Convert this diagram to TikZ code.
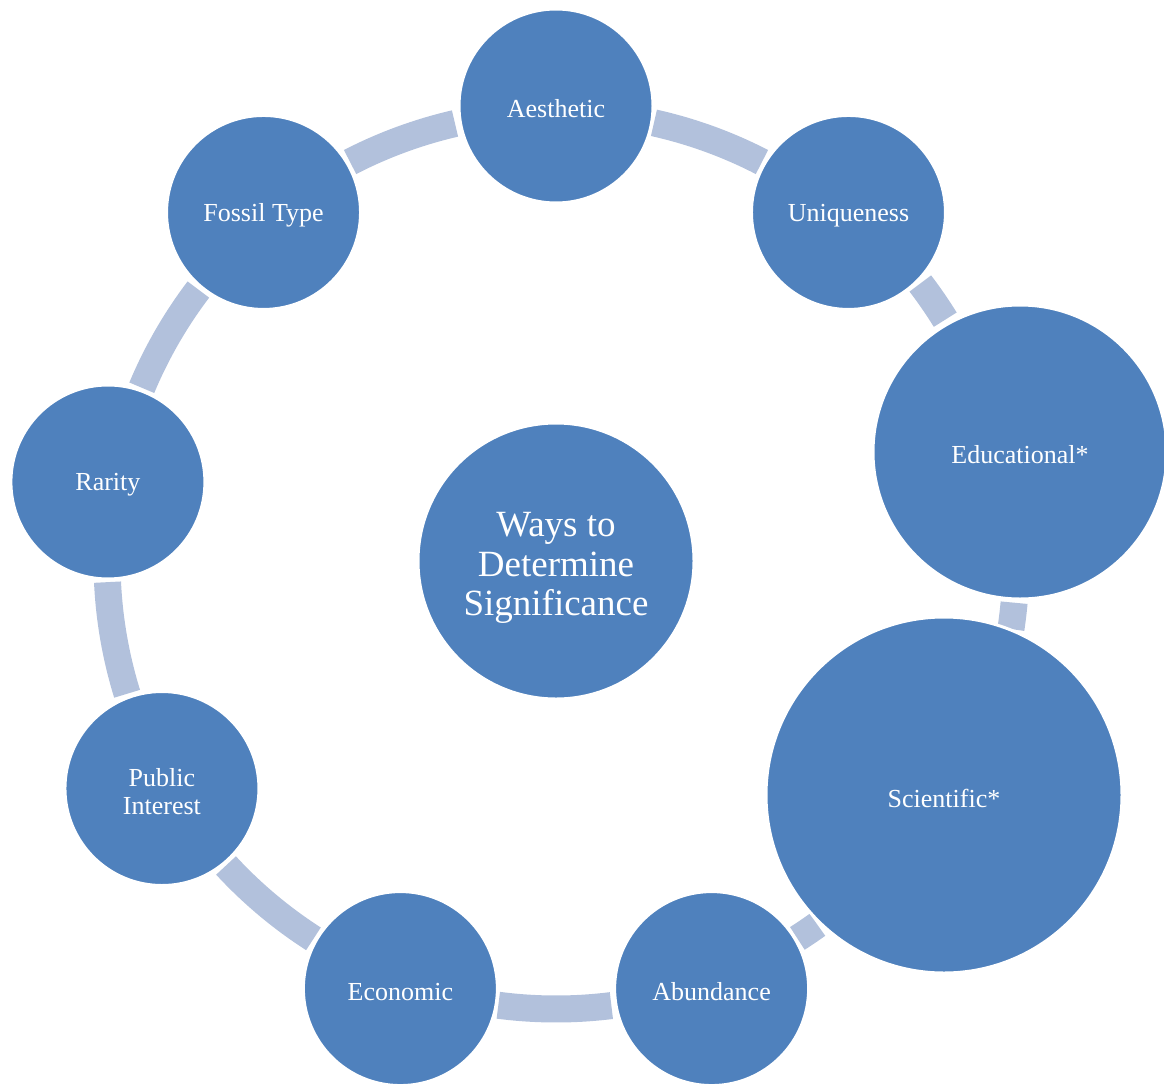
\documentclass[tikz,border=0pt]{standalone}
\usepackage{fontspec}
\setmainfont{Liberation Serif}
\usetikzlibrary{calc}
\definecolor{disc}{HTML}{4F81BD}
\definecolor{ring}{HTML}{B2C1DC}
\begin{document}
\begin{tikzpicture}[x=1pt,y=1pt,
  bubble/.style={circle, fill=disc, draw=white, line width=3pt, inner sep=0pt},
  caption/.style={text=white, align=center, yshift=-3pt,
    font=\fontsize{26}{28}\selectfont},
  hubcaption/.style={caption, yshift=-4pt, font=\fontsize{37}{39.5}\selectfont},
  link/.style={draw=ring, line width=27pt}]
\useasboundingbox (0,0) rectangle (1164,-1084);
\coordinate (hub) at (556,-561);

% connecting ring segments
\draw[link] (hub) ++(103:449pt)  arc[start angle=103,   end angle=117.3,  radius=449pt];
\draw[link] (hub) ++(62.7:449pt) arc[start angle=62.7,  end angle=77.4,   radius=449pt];
\draw[link] (hub) ++(31.8:458pt) arc[start angle=31.8,  end angle=37.3,   radius=458pt];
\draw[link] (hub) ++(-8.5:460pt) arc[start angle=-8.5,  end angle=-5.2,   radius=460pt];
\draw[link] (hub) ++(-57.4:448pt) arc[start angle=-57.4, end angle=-54.3, radius=448pt];
\draw[link] (hub) ++(-97.4:448pt) arc[start angle=-97.4, end angle=-82.9, radius=448pt];
\draw[link] (hub) ++(-137.3:449pt) arc[start angle=-137.3, end angle=-122.7, radius=449pt];
\draw[link] (hub) ++(182.7:449pt) arc[start angle=182.7, end angle=197.2, radius=449pt];
\draw[link] (hub) ++(142.8:449pt) arc[start angle=142.8, end angle=157.3, radius=449pt];

% centre
\node[bubble, minimum size=276pt, label={[hubcaption]center:Ways to\\Determine\\Significance}] (centre) at (hub) {};

% outer discs
\node[bubble, minimum size=194pt, label={[caption]center:Aesthetic}]   (aesthetic)  at ($(hub)+(90:455pt)$)   {};
\node[bubble, minimum size=194pt, label={[caption]center:Uniqueness}]  (uniqueness) at ($(hub)+(50:455pt)$)   {};
\node[bubble, minimum size=294pt, label={[caption]center:Educational*}] (educational) at (1020,-452)          {};
\node[bubble, minimum size=356pt, label={[caption]center:Scientific*}] (scientific) at (944,-795)             {};
\node[bubble, minimum size=194pt, label={[caption]center:Abundance}]   (abundance)  at ($(hub)+(-70:455pt)$)  {};
\node[bubble, minimum size=194pt, label={[caption]center:Economic}]    (economic)   at ($(hub)+(-110:455pt)$) {};
\node[bubble, minimum size=194pt, label={[caption]center:Public\\Interest}] (public) at ($(hub)+(-150:455pt)$) {};
\node[bubble, minimum size=194pt, label={[caption]center:Rarity}]      (rarity)     at ($(hub)+(170:455pt)$)  {};
\node[bubble, minimum size=194pt, label={[caption]center:Fossil Type}] (fossil)     at ($(hub)+(130:455pt)$)  {};
\end{tikzpicture}
\end{document}
